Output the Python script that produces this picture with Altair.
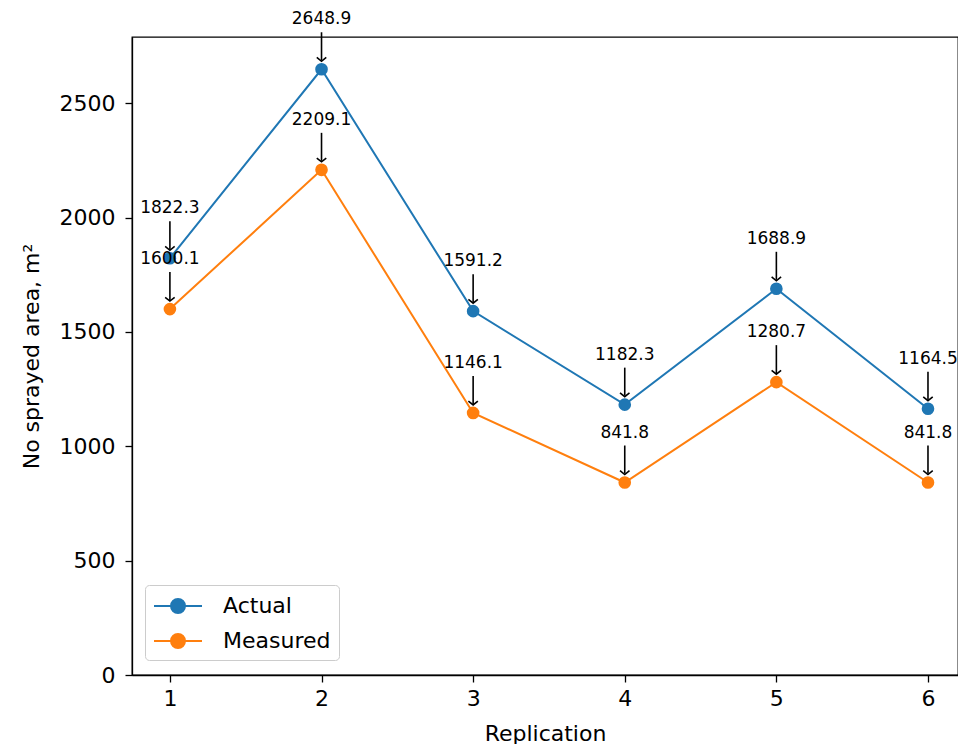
import altair as alt
import pandas as pd

replication = [1, 2, 3, 4, 5, 6]
actual = [1822.3, 2648.9, 1591.2, 1182.3, 1688.9, 1164.5]
measured = [1600.1, 2209.1, 1146.1, 841.8, 1280.7, 841.8]
series_names = ["Actual", "Measured"]
colors = ["#1f77b4", "#ff7f0e"]
y_ticks = [0, 500, 1000, 1500, 2000, 2500]

rows = []
for name, vals in zip(series_names, [actual, measured]):
    for r, v in zip(replication, vals):
        rows.append({"series": name, "rep": r, "value": v, "label": f"{v:.1f}"})
df = pd.DataFrame(rows)

FONT = "DejaVu Sans"

x = alt.X("rep:Q", scale=alt.Scale(domain=[0.75, 6.198], nice=False, zero=False),
          axis=alt.Axis(values=replication, title="Replication", format="d"))
y = alt.Y("value:Q", scale=alt.Scale(domain=[0, 2790], nice=False),
          axis=alt.Axis(values=y_ticks, title="No sprayed area, m²", format="d"))

legend_path = ("M-1,0L3,0M0.417,0A0.583,0.583,0,1,1,1.583,0"
               "A0.583,0.583,0,1,1,0.417,0Z")

color = alt.Color("series:N", scale=alt.Scale(domain=series_names, range=colors),
                  legend=alt.Legend(title=None, orient="none", legendX=13, legendY=548,
                                    symbolType=legend_path, symbolSize=576,
                                    symbolStrokeWidth=2, labelFontSize=22, labelFont=FONT,
                                    labelColor="black",
                                    padding=8, strokeColor="#cccccc", cornerRadius=4,
                                    fillColor="white", rowPadding=11, labelOffset=44))

base = alt.Chart(df)

lines = base.mark_line(strokeWidth=2).encode(x=x, y=y, color=color)
points = base.mark_point(filled=True, size=160, opacity=1).encode(x=x, y=y, color=color)

arrows = base.mark_rule(color="black", strokeWidth=1.6, yOffset=-37, y2Offset=-9).encode(
    x="rep:Q", y="value:Q", y2="value:Q")
heads = base.mark_point(shape="M-1,-0.8L0,0L1,-0.8", filled=False, color="black",
                        strokeWidth=1.6, size=90, yOffset=-8, opacity=1).encode(
    x="rep:Q", y="value:Q")
texts = base.mark_text(dy=-50, fontSize=17, font=FONT, color="black").encode(
    x="rep:Q", y="value:Q", text="label:N")

chart = alt.layer(lines, points, arrows, heads, texts).properties(
    width=826, height=638,
    padding={"left": 124, "top": 29, "right": 0, "bottom": 69},
    autosize=alt.AutoSizeParams(type="none"),
).configure_view(stroke="black", strokeWidth=1.3).configure_axis(
    grid=False, domainColor="black", domainWidth=1.3, tickColor="black", tickSize=7,
    tickWidth=1.3, labelFont=FONT, labelFontSize=22, labelColor="black",
    titleFont=FONT, titleFontSize=22, titleFontWeight="normal", titleColor="black",
).configure_axisY(labelPadding=10, titlePadding=16).configure_axisX(
    labelPadding=6, titlePadding=14)

chart.save("out.html", embed_options={"renderer": "svg", "actions": False})
